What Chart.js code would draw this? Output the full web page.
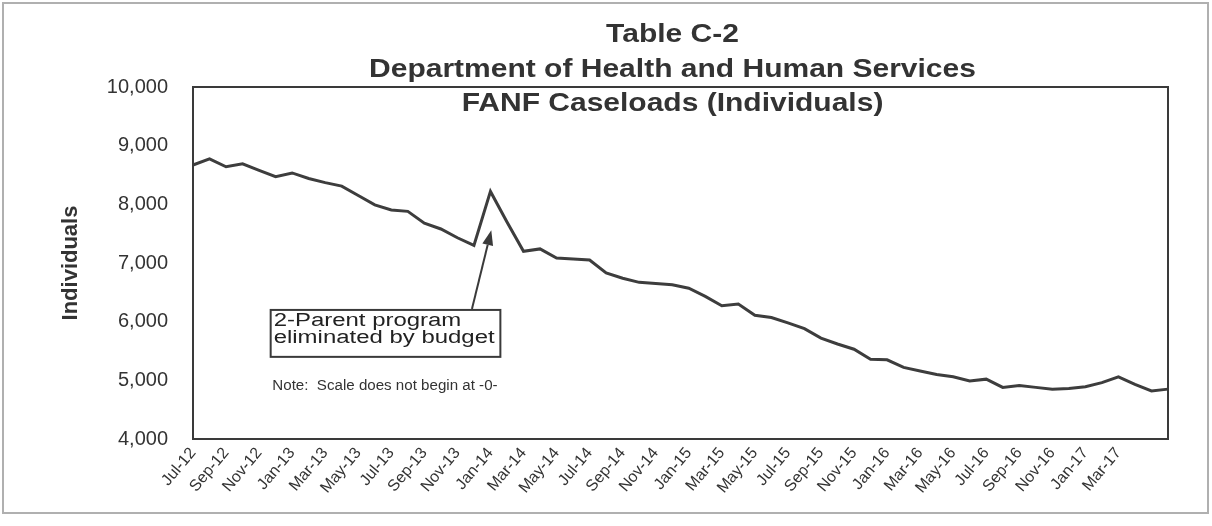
<!DOCTYPE html>
<html>
<head>
<meta charset="utf-8">
<title>FANF Caseloads (Individuals)</title>
<script src="https://cdn.jsdelivr.net/npm/chart.js@4.4.0/dist/chart.umd.min.js"></script>
<style>
  html, body { margin: 0; padding: 0; background: #fff; }
  #wrap { width: 1212px; height: 526px; }
</style>
</head>
<body>
<div id="wrap"><canvas id="fanfChart" width="1212" height="526"></canvas></div>
<script>
// monthly categories, Jul-12 .. Jun-17
const months = [
  'Jul-12','Aug-12','Sep-12','Oct-12','Nov-12','Dec-12',
  'Jan-13','Feb-13','Mar-13','Apr-13','May-13','Jun-13','Jul-13','Aug-13','Sep-13','Oct-13','Nov-13','Dec-13',
  'Jan-14','Feb-14','Mar-14','Apr-14','May-14','Jun-14','Jul-14','Aug-14','Sep-14','Oct-14','Nov-14','Dec-14',
  'Jan-15','Feb-15','Mar-15','Apr-15','May-15','Jun-15','Jul-15','Aug-15','Sep-15','Oct-15','Nov-15','Dec-15',
  'Jan-16','Feb-16','Mar-16','Apr-16','May-16','Jun-16','Jul-16','Aug-16','Sep-16','Oct-16','Nov-16','Dec-16',
  'Jan-17','Feb-17','Mar-17','Apr-17','May-17','Jun-17'
];

// individuals
const caseloads = [
  8670, 8775, 8640, 8690, 8580, 8470,
  8535, 8440, 8370, 8310, 8150, 7990, 7905, 7880, 7680, 7580, 7430, 7300,
  8220, 7700, 7200, 7240, 7085, 7070, 7050, 6830, 6740, 6670, 6650, 6630,
  6570, 6430, 6270, 6300, 6110, 6070, 5980, 5880, 5720, 5620, 5530, 5360,
  5350, 5220, 5160, 5100, 5060, 4990, 5020, 4880, 4910, 4880, 4850, 4860,
  4890, 4960, 5060, 4930, 4820, 4850
];

// only every second month is labelled on the axis
const tickLabels = [
  'Jul-12','Sep-12','Nov-12','Jan-13','Mar-13','May-13','Jul-13','Sep-13','Nov-13',
  'Jan-14','Mar-14','May-14','Jul-14','Sep-14','Nov-14','Jan-15','Mar-15','May-15',
  'Jul-15','Sep-15','Nov-15','Jan-16','Mar-16','May-16','Jul-16','Sep-16','Nov-16',
  'Jan-17','Mar-17'
];

const yMin = 4000;
const yMax = 10000;
const yStep = 1000;

const titleLines = ['Table C-2', 'Department of Health and Human Services', 'FANF Caseloads (Individuals)'];
const calloutLines = ['2-Parent program', 'eliminated by budget'];
const noteText = 'Note:  Scale does not begin at -0-';

const FONT = '"Liberation Sans", Arial, sans-serif';
const INK = '#333333';

// the scan is squashed vertically, so text is drawn a bit wider than tall
function wideText(ctx, text, x, y, sx, align) {
  ctx.save();
  ctx.translate(x, y);
  ctx.scale(sx, 1);
  ctx.textAlign = align;
  ctx.fillText(text, 0, 0);
  ctx.restore();
}

const decorations = {
  id: 'decorations',
  afterDraw(chart) {
    const { ctx, chartArea: a } = chart;
    const xs = chart.scales.x, ys = chart.scales.y;
    ctx.save();

    // page frame from the scan
    ctx.strokeStyle = '#b0b0b0';
    ctx.lineWidth = 2;
    ctx.strokeRect(3, 3, chart.width - 7, chart.height - 16);

    // plot box
    ctx.strokeStyle = '#3a3a3a';
    ctx.lineWidth = 2;
    ctx.strokeRect(a.left, a.top, a.right - a.left, a.bottom - a.top);

    // titles
    ctx.fillStyle = INK;
    ctx.textBaseline = 'middle';
    ctx.font = 'bold 25px ' + FONT;
    const cx = (a.left + a.right) / 2 - 8;
    wideText(ctx, titleLines[0], cx, 35, 1.2, 'center');
    wideText(ctx, titleLines[1], cx, 70, 1.2, 'center');
    wideText(ctx, titleLines[2], cx, 104, 1.2, 'center');

    // callout box
    const bx0 = xs.getPixelForValue(4.7), bx1 = xs.getPixelForValue(18.6);
    const by0 = ys.getPixelForValue(6200), by1 = ys.getPixelForValue(5400);
    ctx.fillStyle = '#fff';
    ctx.fillRect(bx0, by0, bx1 - bx0, by1 - by0);
    ctx.strokeStyle = '#3a3a3a';
    ctx.lineWidth = 2;
    ctx.strokeRect(bx0, by0, bx1 - bx0, by1 - by0);
    ctx.fillStyle = '#222';
    ctx.font = '18px ' + FONT;
    wideText(ctx, calloutLines[0], bx0 + 3, by0 + 11, 1.33, 'left');
    wideText(ctx, calloutLines[1], bx0 + 3, by0 + 28, 1.33, 'left');

    // arrow up to the Jan-14 spike
    const tx0 = xs.getPixelForValue(16.88), ty0 = ys.getPixelForValue(6216);
    const tx1 = xs.getPixelForValue(18.05), ty1 = ys.getPixelForValue(7560);
    const ang = Math.atan2(ty1 - ty0, tx1 - tx0);
    const head = 15, half = 5.5;
    ctx.strokeStyle = '#3a3a3a';
    ctx.lineWidth = 2;
    ctx.beginPath();
    ctx.moveTo(tx0, ty0);
    ctx.lineTo(tx1 - Math.cos(ang) * head, ty1 - Math.sin(ang) * head);
    ctx.stroke();
    ctx.fillStyle = '#3a3a3a';
    ctx.beginPath();
    ctx.moveTo(tx1, ty1);
    ctx.lineTo(tx1 - Math.cos(ang) * head - Math.sin(ang) * half, ty1 - Math.sin(ang) * head + Math.cos(ang) * half);
    ctx.lineTo(tx1 - Math.cos(ang) * head + Math.sin(ang) * half, ty1 - Math.sin(ang) * head - Math.cos(ang) * half);
    ctx.closePath();
    ctx.fill();

    // note about the scale
    ctx.fillStyle = INK;
    ctx.font = '14px ' + FONT;
    wideText(ctx, noteText, xs.getPixelForValue(4.8), ys.getPixelForValue(4900), 1.08, 'left');

    ctx.restore();
  }
};

const ctx = document.getElementById('fanfChart').getContext('2d');
new Chart(ctx, {
  type: 'line',
  data: {
    labels: months,
    datasets: [{
      label: 'Individuals',
      data: caseloads,
      borderColor: '#3d3d3d',
      borderWidth: 3,
      pointRadius: 0,
      tension: 0,
      fill: false
    }]
  },
  options: {
    responsive: false,
    devicePixelRatio: 1,
    animation: false,
    layout: { padding: { top: 87, right: 44, left: 0, bottom: 0 } },
    plugins: {
      legend: { display: false },
      tooltip: { enabled: false }
    },
    scales: {
      x: {
        offset: false,
        grid: { display: false, drawTicks: false },
        border: { display: false },
        ticks: {
          autoSkip: false,
          minRotation: 50,
          maxRotation: 50,
          padding: 5,
          color: INK,
          font: { family: FONT, size: 16 },
          callback: function (value, index) {
            const lab = months[index];
            return tickLabels.includes(lab) ? lab : '';
          }
        },
        afterFit: function (scale) { scale.height = 87; }
      },
      y: {
        min: yMin,
        max: yMax,
        grid: { display: false, drawTicks: false },
        border: { display: false },
        ticks: {
          stepSize: yStep,
          padding: 25,
          color: INK,
          font: { family: FONT, size: 20 },
          callback: function (value) { return value.toLocaleString('en-US'); }
        },
        title: {
          display: true,
          text: 'Individuals',
          color: INK,
          font: { family: FONT, size: 22, weight: 'bold' },
          padding: { top: 58, bottom: 0 }
        },
        afterFit: function (scale) { scale.width = 193; }
      }
    }
  },
  plugins: [decorations]
});
</script>
</body>
</html>
